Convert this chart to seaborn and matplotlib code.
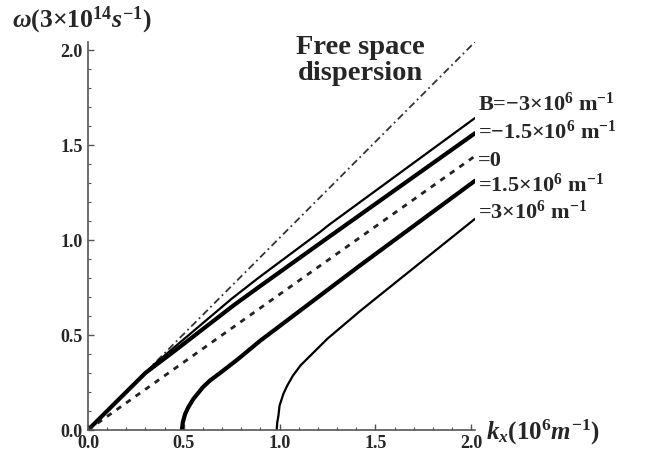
import matplotlib
matplotlib.use("Agg")
import matplotlib.pyplot as plt
import seaborn as sns
from matplotlib.ticker import MultipleLocator

# values (k in 1e6 m^-1, omega in 3e14 s^-1)
k_free = [0, 2.02]
w_free = [0, 2.04]

k_m3 = [0, 0.34, 0.445, 0.75, 0.89, 1.21, 1.26, 2.02]
w_m3 = [0, 0.34, 0.43, 0.69, 0.80, 1.04, 1.08, 1.64]

k_m15 = [0, 0.30, 0.445, 0.76, 0.89, 1.23, 2.02]
w_m15 = [0, 0.30, 0.41, 0.655, 0.75, 0.995, 1.56]

k_0 = [0, 2.02]
w_0 = [0, 1.44]

k_p15 = [0.49, 0.495, 0.507, 0.524, 0.55, 0.60, 0.637, 0.69, 0.78, 0.90, 1.42, 2.02]
w_p15 = [0, 0.04, 0.084, 0.12, 0.163, 0.225, 0.26, 0.30, 0.37, 0.47, 0.865, 1.31]

k_p3 = [0.985, 0.988, 0.994, 1.00, 1.02, 1.04, 1.07, 1.11, 1.16, 1.25, 1.42, 1.50, 2.02]
w_p3 = [0, 0.04, 0.075, 0.128, 0.19, 0.233, 0.286, 0.34, 0.39, 0.48, 0.625, 0.69, 1.11]

labels = ["B=$-$3×10$^{6}$ m$^{-1}$", "=$-$1.5×10$^{6}$ m$^{-1}$", "=0",
          "=1.5×10$^{6}$ m$^{-1}$", "=3×10$^{6}$ m$^{-1}$"]
label_w = [1.72, 1.57, 1.42, 1.29, 1.15]

sns.set_style("ticks")
plt.rcParams["font.family"] = ["Liberation Serif", "DejaVu Serif"]
plt.rcParams["font.weight"] = "bold"
plt.rcParams["mathtext.fontset"] = "custom"
plt.rcParams["mathtext.rm"] = "Liberation Serif:bold"
plt.rcParams["mathtext.bf"] = "Liberation Serif:bold"
plt.rcParams["mathtext.it"] = "Liberation Serif:italic:bold"

fig = plt.figure(figsize=(6.45, 4.52), dpi=100)
ax = fig.add_axes([0.1364, 0.0465, 0.6, 0.8585])

sns.lineplot(x=k_free, y=w_free, ax=ax, color="#333333", lw=1.3,
             linestyle=(0, (4, 2, 1, 2)), sort=False)
sns.lineplot(x=k_m3, y=w_m3, ax=ax, color="black", lw=1.6, sort=False)
sns.lineplot(x=k_m15, y=w_m15, ax=ax, color="black", lw=3.0, sort=False)
sns.lineplot(x=k_0, y=w_0, ax=ax, color="#222222", lw=2.0,
             linestyle=(0, (2, 2.2)), sort=False)
sns.lineplot(x=k_p15, y=w_p15, ax=ax, color="black", lw=3.0, sort=False)
sns.lineplot(x=k_p3, y=w_p3, ax=ax, color="black", lw=1.6, sort=False)

ax.set_xlim(0, 2.02)
ax.set_ylim(0, 2.04)
for s in ["top", "right"]:
    ax.spines[s].set_visible(False)
for s in ["left", "bottom"]:
    ax.spines[s].set_color("#555555")
    ax.spines[s].set_linewidth(1.2)

ax.xaxis.set_minor_locator(MultipleLocator(0.1))
ax.yaxis.set_minor_locator(MultipleLocator(0.1))
ax.set_xticks([0, 0.5, 1.0, 1.5, 2.0])
ax.set_xticklabels(["0.0", "0.5", "1.0", "1.5", "2.0"])
ax.set_yticks([0, 0.5, 1.0, 1.5, 2.0])
ax.set_yticklabels(["0.0", "0.5", "1.0", "1.5", "2.0"])
ax.tick_params(which="major", direction="in", length=4, width=1,
               color="#555555", labelsize=13)
ax.tick_params(axis="x", which="major", pad=3)
ax.tick_params(axis="y", which="major", pad=4)
ax.tick_params(which="minor", direction="in", length=2.5, width=0.8,
               color="#555555")
for t in ax.get_xticklabels() + ax.get_yticklabels():
    t.set_fontweight("bold")

ax.set_xlabel("")
ax.set_ylabel("")
fig.text(0.018, 0.955, r"$\omega$(3×10$^{14}$$s^{-1}$)", fontsize=18.5,
         ha="left", va="center")
ax.text(2.075, -0.005, r"$k_x$(10$^{6}$$m^{-1}$)", fontsize=18,
        ha="left", va="center", clip_on=False)

ax.text(1.42, 1.95, "Free space\ndispersion", fontsize=20.5, fontweight="bold",
        ha="center", va="center", linespacing=1.05)

for lab, w in zip(labels, label_w):
    ax.text(2.035, w, lab, fontsize=16, fontweight="bold",
            ha="left", va="center", clip_on=False)

fig.savefig("out.png", dpi=100)
